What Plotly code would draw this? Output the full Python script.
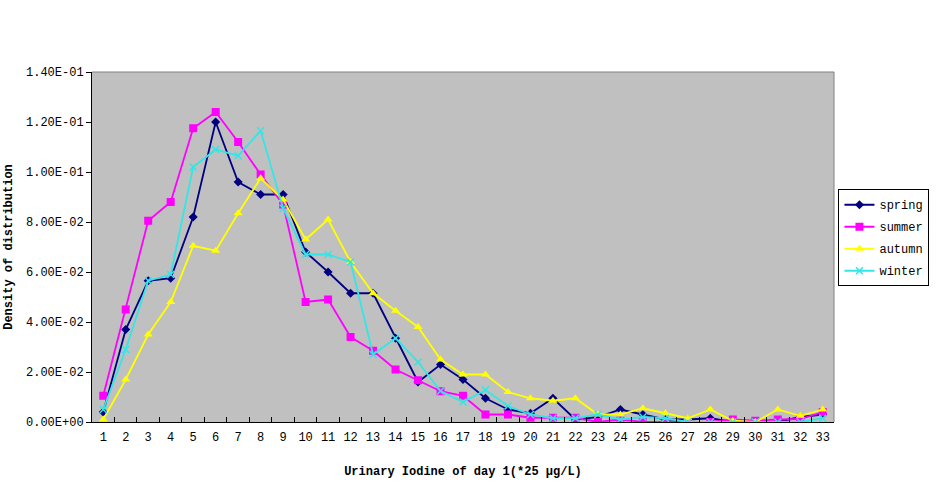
import plotly.graph_objects as go

categories = [str(i) for i in range(1, 34)]

spring = [0.004, 0.037, 0.0565, 0.0575, 0.082, 0.12, 0.096, 0.091, 0.091, 0.068,
          0.060, 0.0515, 0.0515, 0.0335, 0.016, 0.023, 0.017, 0.0095, 0.005, 0.0035,
          0.0095, 0.001, 0.002, 0.005, 0.003, 0.001, 0.001, 0.0015, 0.0, 0.0,
          0.0, 0.002, 0.003]
summer = [0.0105, 0.045, 0.0805, 0.088, 0.1175, 0.124, 0.112, 0.099, 0.087, 0.048,
          0.049, 0.034, 0.0285, 0.021, 0.0167, 0.0123, 0.0105, 0.003, 0.003, 0.0017,
          0.0017, 0.0017, 0.0, 0.001, 0.0, 0.0, 0.0, 0.0, 0.001, 0.0005,
          0.001, 0.0012, 0.004]
autumn = [0.001, 0.017, 0.035, 0.048, 0.0705, 0.0685, 0.0835, 0.0975, 0.089, 0.073,
          0.081, 0.064, 0.0515, 0.0445, 0.038, 0.025, 0.019, 0.019, 0.012, 0.0095,
          0.0085, 0.0095, 0.003, 0.003, 0.0055, 0.0035, 0.0015, 0.005, 0.0005, 0.0,
          0.005, 0.0025, 0.005]
winter = [0.005, 0.029, 0.0565, 0.059, 0.102, 0.109, 0.1065, 0.1165, 0.0855, 0.067,
          0.067, 0.064, 0.027, 0.0335, 0.024, 0.0124, 0.008, 0.0128, 0.0064, 0.003,
          0.0015, 0.0015, 0.003, 0.001, 0.002, 0.0015, 0.0, 0.0, 0.0, 0.0,
          0.0, 0.0, 0.0015]

ytick_vals = [0, 0.02, 0.04, 0.06, 0.08, 0.10, 0.12, 0.14]
ytick_text = ["0.00E+00", "2.00E-02", "4.00E-02", "6.00E-02", "8.00E-02",
              "1.00E-01", "1.20E-01", "1.40E-01"]

series = [
    ("spring", spring, "#000080", "diamond", 7),
    ("summer", summer, "#FF00FF", "square", 8),
    ("autumn", autumn, "#FFFF00", "triangle-up", 8),
    ("winter", winter, "#33E6E6", "x-thin-open", 7),
]

fig = go.Figure()
for name, vals, col, sym, sz in series:
    marker = dict(symbol=sym, size=sz, color=col)
    if sym == "x-thin-open":
        marker["line"] = dict(color=col, width=1.5)
    fig.add_trace(go.Scatter(
        x=categories, y=vals, name=name, mode="lines+markers",
        legendgroup=name,
        line=dict(color=col, width=1.8), marker=marker,
    ))

font_mono = "Liberation Mono, DejaVu Sans Mono, monospace"

fig.update_layout(
    width=943, height=484,
    margin=dict(l=92, r=109, t=72, b=62),
    paper_bgcolor="white",
    plot_bgcolor="#C0C0C0",
    font=dict(family=font_mono, size=12, color="black"),
    showlegend=True,
    legend=dict(
        x=1.006, y=0.665, xanchor="left", yanchor="top",
        bgcolor="white", bordercolor="black", borderwidth=1,
        font=dict(family=font_mono, size=12, color="black"),
        itemwidth=30, tracegroupgap=3,
    ),
    xaxis=dict(
        type="category", range=[-0.5, 32.5],
        tickson="boundaries", ticks="inside", ticklen=5, tickcolor="black",
        showline=True, linecolor="black", linewidth=1,
        showgrid=False, zeroline=False,
        tickangle=0, automargin=False,
        tickfont=dict(family=font_mono, size=12),
        ticklabelstandoff=4,
        title=dict(text="<b>Urinary Iodine of day 1(*25 μg/L)</b>",
                   font=dict(family=font_mono, size=12), standoff=22),
    ),
    yaxis=dict(
        range=[0, 0.14], tickvals=ytick_vals, ticktext=ytick_text,
        ticks="outside", ticklen=5, tickcolor="black",
        showline=True, linecolor="black", linewidth=1,
        showgrid=False, zeroline=False,
        automargin=False,
        tickfont=dict(family=font_mono, size=12),
        title=dict(text="<b>Density of distribution</b>",
                   font=dict(family=font_mono, size=12), standoff=10),
    ),
)

# grey frame on top and right of plot area
fig.add_shape(type="line", xref="paper", yref="paper", x0=0, x1=1, y0=1, y1=1,
              line=dict(color="#808080", width=1))
fig.add_shape(type="line", xref="paper", yref="paper", x0=1, x1=1, y0=0, y1=1,
              line=dict(color="#808080", width=1))

fig.write_html("out.html")
